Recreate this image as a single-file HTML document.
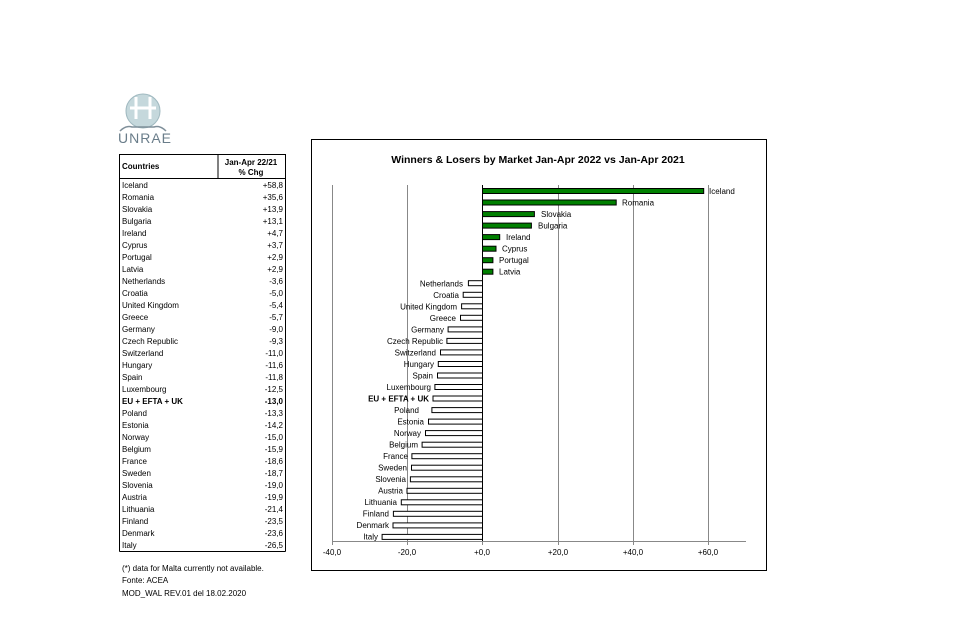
<!DOCTYPE html><html><head><meta charset="utf-8"><style>body{margin:0;background:#fff}svg{display:block;font-family:"Liberation Sans",Arial,sans-serif}</style></head><body>
<svg width="959" height="639" viewBox="0 0 959 639" xmlns="http://www.w3.org/2000/svg">
<circle cx="143" cy="111" r="17" fill="#c5d8dc"/><circle cx="143" cy="111" r="17" fill="none" stroke="#9fb8bf" stroke-width="1"/>
<path d="M136 97 v22 M150 97 v22 M130 108 h26" stroke="#fff" stroke-width="3"/>
<path d="M120 131 q6 -6 12 -4 h22 q6 -2 12 4" fill="none" stroke="#7f8f9a" stroke-width="1.5"/>
<text x="118" y="143" font-size="14" fill="#6a7d8a" letter-spacing="1">UNRAE</text>
<g font-size="8" fill="#000">
<rect x="119.5" y="154.5" width="166" height="24" fill="none" stroke="#000"/>
<line x1="218" y1="154.5" x2="218" y2="178.5" stroke="#000"/>
<line x1="119.5" y1="178" x2="119.5" y2="551.5" stroke="#000"/>
<line x1="285.5" y1="178" x2="285.5" y2="551.5" stroke="#000"/>
<line x1="119.5" y1="551.5" x2="285.5" y2="551.5" stroke="#000"/>
<text x="122" y="169" font-weight="bold">Countries</text>
<text x="251" y="165" font-weight="bold" text-anchor="middle">Jan-Apr 22/21</text>
<text x="251" y="175" font-weight="bold" text-anchor="middle">% Chg</text>
<g><text x="122" y="188">Iceland</text><text x="122" y="200">Romania</text><text x="122" y="212">Slovakia</text><text x="122" y="224">Bulgaria</text><text x="122" y="236">Ireland</text><text x="122" y="248">Cyprus</text><text x="122" y="260">Portugal</text><text x="122" y="272">Latvia</text><text x="122" y="284">Netherlands</text><text x="122" y="296">Croatia</text><text x="122" y="308">United Kingdom</text><text x="122" y="320">Greece</text><text x="122" y="332">Germany</text><text x="122" y="344">Czech Republic</text><text x="122" y="356">Switzerland</text><text x="122" y="368">Hungary</text><text x="122" y="380">Spain</text><text x="122" y="392">Luxembourg</text><text x="122" y="404" font-weight="bold">EU + EFTA + UK</text><text x="122" y="416">Poland</text><text x="122" y="428">Estonia</text><text x="122" y="440">Norway</text><text x="122" y="452">Belgium</text><text x="122" y="464">France</text><text x="122" y="476">Sweden</text><text x="122" y="488">Slovenia</text><text x="122" y="500">Austria</text><text x="122" y="512">Lithuania</text><text x="122" y="524">Finland</text><text x="122" y="536">Denmark</text><text x="122" y="548">Italy</text></g>
<g text-anchor="end"><text x="283" y="188">+58,8</text><text x="283" y="200">+35,6</text><text x="283" y="212">+13,9</text><text x="283" y="224">+13,1</text><text x="283" y="236">+4,7</text><text x="283" y="248">+3,7</text><text x="283" y="260">+2,9</text><text x="283" y="272">+2,9</text><text x="283" y="284">-3,6</text><text x="283" y="296">-5,0</text><text x="283" y="308">-5,4</text><text x="283" y="320">-5,7</text><text x="283" y="332">-9,0</text><text x="283" y="344">-9,3</text><text x="283" y="356">-11,0</text><text x="283" y="368">-11,6</text><text x="283" y="380">-11,8</text><text x="283" y="392">-12,5</text><text x="283" y="404" font-weight="bold">-13,0</text><text x="283" y="416">-13,3</text><text x="283" y="428">-14,2</text><text x="283" y="440">-15,0</text><text x="283" y="452">-15,9</text><text x="283" y="464">-18,6</text><text x="283" y="476">-18,7</text><text x="283" y="488">-19,0</text><text x="283" y="500">-19,9</text><text x="283" y="512">-21,4</text><text x="283" y="524">-23,5</text><text x="283" y="536">-23,6</text><text x="283" y="548">-26,5</text></g>
<text x="122" y="571">(*) data for Malta currently not available.</text>
<text x="122" y="583">Fonte: ACEA</text>
<text x="122" y="596">MOD_WAL REV.01 del 18.02.2020</text>
</g>
<rect x="311.5" y="139.5" width="455" height="431" fill="none" stroke="#000"/>
<text x="538" y="163" font-size="10.5" font-weight="bold" text-anchor="middle">Winners &amp; Losers by Market  Jan-Apr 2022 vs Jan-Apr 2021</text>
<g stroke="#888" stroke-width="1"><line x1="332.5" y1="185" x2="332.5" y2="541"/><line x1="407.5" y1="185" x2="407.5" y2="541"/><line x1="558.5" y1="185" x2="558.5" y2="541"/><line x1="633.5" y1="185" x2="633.5" y2="541"/><line x1="708.5" y1="185" x2="708.5" y2="541"/></g>
<line x1="332" y1="541.5" x2="746" y2="541.5" stroke="#888"/>
<g stroke="#888"><line x1="332.5" y1="541" x2="332.5" y2="545"/><line x1="407.5" y1="541" x2="407.5" y2="545"/><line x1="482.5" y1="541" x2="482.5" y2="545"/><line x1="558.5" y1="541" x2="558.5" y2="545"/><line x1="633.5" y1="541" x2="633.5" y2="545"/><line x1="708.5" y1="541" x2="708.5" y2="545"/></g>
<g font-size="8" text-anchor="middle"><text x="332" y="555">-40,0</text><text x="407" y="555">-20,0</text><text x="482" y="555">+0,0</text><text x="558" y="555">+20,0</text><text x="633" y="555">+40,0</text><text x="708" y="555">+60,0</text></g>
<g stroke="#000" stroke-width="1" fill="#008000">
<rect x="482.5" y="188.5" width="221.2" height="5"/><rect x="482.5" y="200" width="133.7" height="5"/><rect x="482.5" y="211.6" width="51.9" height="5"/><rect x="482.5" y="223.1" width="48.9" height="5"/><rect x="482.5" y="234.6" width="17.2" height="5"/><rect x="482.5" y="246.2" width="13.5" height="5"/><rect x="482.5" y="257.7" width="10.4" height="5"/><rect x="482.5" y="269.2" width="10.4" height="5"/>
</g>
<g stroke="#000" stroke-width="1" fill="#fff">
<rect x="468.4" y="280.7" width="14.1" height="5"/><rect x="463.2" y="292.3" width="19.3" height="5"/><rect x="461.6" y="303.8" width="20.9" height="5"/><rect x="460.5" y="315.3" width="22" height="5"/><rect x="448.1" y="326.9" width="34.4" height="5"/><rect x="446.9" y="338.4" width="35.6" height="5"/><rect x="440.5" y="349.9" width="42" height="5"/><rect x="438.3" y="361.5" width="44.2" height="5"/><rect x="437.5" y="373" width="45" height="5"/><rect x="434.9" y="384.5" width="47.6" height="5"/><rect x="433" y="396" width="49.5" height="5"/><rect x="431.9" y="407.6" width="50.6" height="5"/><rect x="428.5" y="419.1" width="54" height="5"/><rect x="425.5" y="430.6" width="57" height="5"/><rect x="422.1" y="442.2" width="60.4" height="5"/><rect x="411.9" y="453.7" width="70.6" height="5"/><rect x="411.5" y="465.2" width="71" height="5"/><rect x="410.4" y="476.8" width="72.1" height="5"/><rect x="407" y="488.3" width="75.5" height="5"/><rect x="401.3" y="499.8" width="81.2" height="5"/><rect x="393.4" y="511.3" width="89.1" height="5"/><rect x="393" y="522.9" width="89.5" height="5"/><rect x="382.1" y="534.4" width="100.4" height="5"/>
</g>
<line x1="482.5" y1="185" x2="482.5" y2="541" stroke="#000"/>
<g font-size="8">
<text x="709" y="194">Iceland</text><text x="622" y="205.5">Romania</text><text x="541" y="217">Slovakia</text><text x="538" y="228.5">Bulgaria</text><text x="506" y="240">Ireland</text><text x="502" y="251.5">Cyprus</text><text x="499" y="263">Portugal</text><text x="499" y="274.5">Latvia</text>
</g>
<g font-size="8" text-anchor="end">
<text x="463" y="286.5">Netherlands</text><text x="459" y="298">Croatia</text><text x="457" y="309.5">United Kingdom</text><text x="456" y="321">Greece</text><text x="444" y="332.5">Germany</text><text x="443" y="344">Czech Republic</text><text x="436" y="355.5">Switzerland</text><text x="434" y="367">Hungary</text><text x="433" y="378.5">Spain</text><text x="431" y="390">Luxembourg</text><text x="429" y="401.5" font-weight="bold">EU + EFTA + UK</text><text x="419" y="413">Poland</text><text x="424" y="424.5">Estonia</text><text x="421" y="436">Norway</text><text x="418" y="447.5">Belgium</text><text x="408" y="459">France</text><text x="407" y="470.5">Sweden</text><text x="406" y="482">Slovenia</text><text x="403" y="493.5">Austria</text><text x="397" y="505">Lithuania</text><text x="389" y="516.5">Finland</text><text x="389" y="528">Denmark</text><text x="378" y="539.5">Italy</text>
</g>
</svg>
</body></html>
